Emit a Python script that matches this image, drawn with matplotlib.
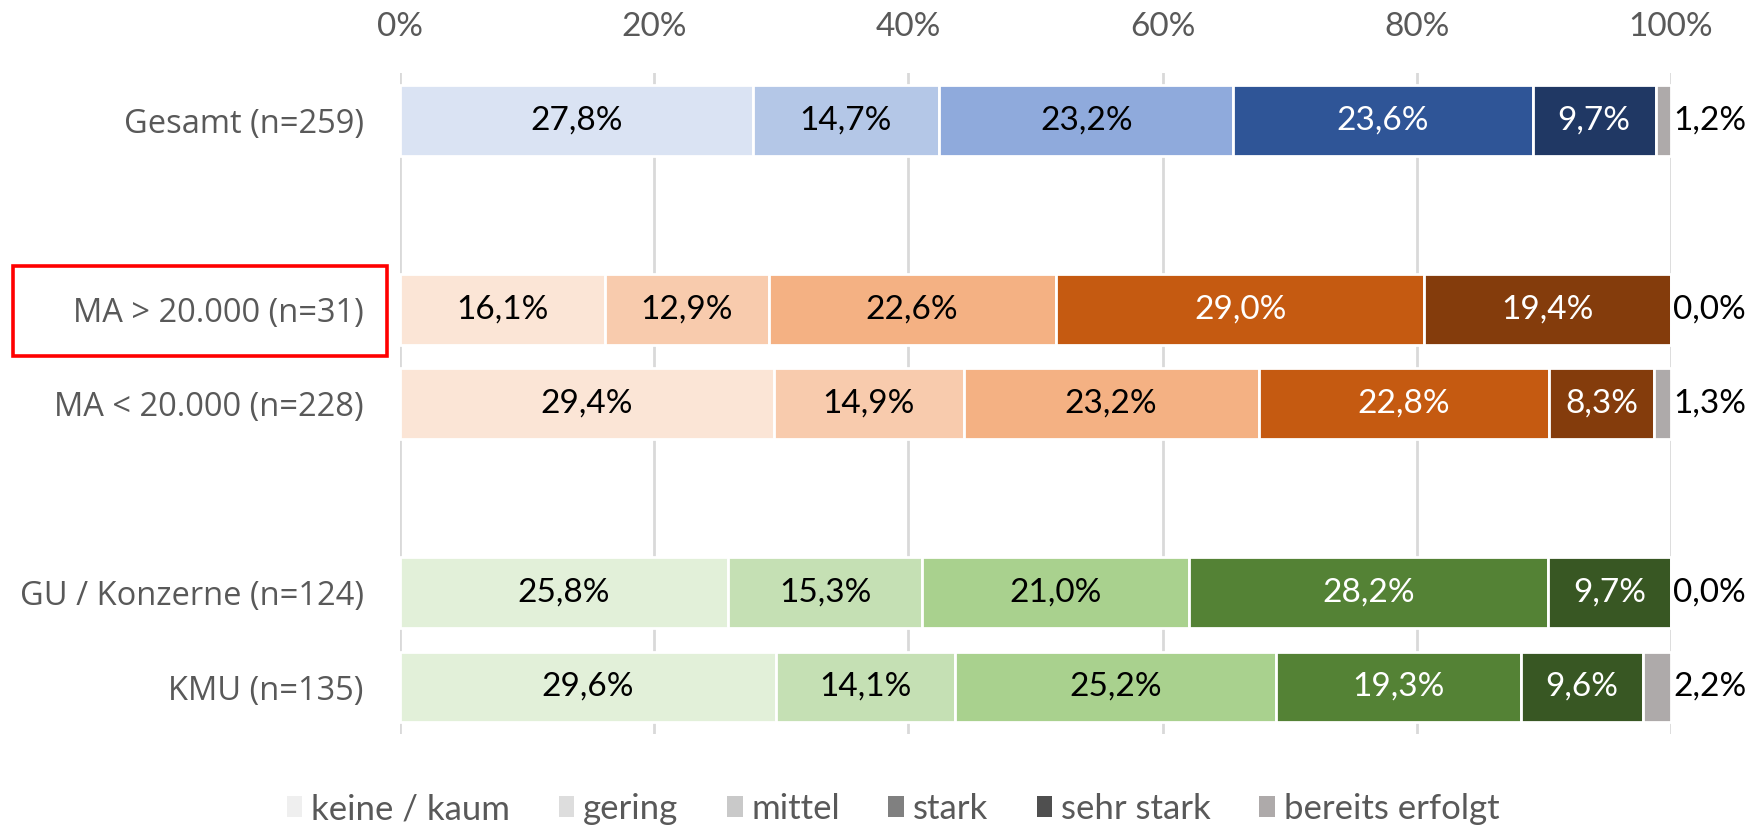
import numpy as np
import matplotlib
matplotlib.use("Agg")
import matplotlib.pyplot as plt
import matplotlib.patches as patches

plt.rcParams["font.family"] = ["Lato", "DejaVu Sans"]

# Daten
groups = ["Gesamt (n=259)", "MA > 20.000 (n=31)", "MA < 20.000 (n=228)",
          "GU / Konzerne (n=124)", "KMU (n=135)"]
positions = [0, 2, 3, 5, 6]
categories = ["keine / kaum", "gering", "mittel", "stark", "sehr stark", "bereits erfolgt"]

gesamt = [27.8, 14.7, 23.2, 23.6, 9.7, 1.2]
ma_gross = [16.1, 12.9, 22.6, 29.0, 19.4, 0.0]
ma_klein = [29.4, 14.9, 23.2, 22.8, 8.3, 1.3]
gu_konzerne = [25.8, 15.3, 21.0, 28.2, 9.7, 0.0]
kmu = [29.6, 14.1, 25.2, 19.3, 9.6, 2.2]
rows = [gesamt, ma_gross, ma_klein, gu_konzerne, kmu]

# Farben pro Zeile (blau, orange, orange, gruen, gruen)
blue = ["#DAE3F3", "#B4C7E7", "#8FAADC", "#2F5597", "#203864", "#AEAAAA"]
orange = ["#FBE5D6", "#F8CBAD", "#F4B183", "#C55A11", "#843C0C", "#AEAAAA"]
green = ["#E2F0D9", "#C5E0B4", "#A9D18E", "#548235", "#385723", "#AEAAAA"]
row_colors = [blue, orange, orange, green, green]
legend_colors = ["#EFEFEF", "#DDDDDD", "#C9C9C9", "#808080", "#4F4F4F", "#AEAAAA"]
text_colors = ["black", "black", "black", "white", "white"]

fig = plt.figure(figsize=(17.58, 8.25), dpi=100)
ax = fig.add_axes([0.2275, 0.110, 0.723, 0.8015])

for vals, pos, cols in zip(rows, positions, row_colors):
    vals = np.array(vals)
    shares = vals / vals.sum() * 100
    left = 0
    for i, (v, s) in enumerate(zip(vals, shares)):
        ax.barh(pos, s, left=left, height=0.75, color=cols[i],
                edgecolor="white", linewidth=2, zorder=2)
        label = f"{v:.1f}%".replace(".", ",")
        if i < 5:
            ax.text(left + s / 2, pos, label, ha="center", va="center",
                    fontsize=24, color=text_colors[i], zorder=3)
        else:
            ax.text(100.15, pos, label, ha="left", va="center",
                    fontsize=24, color="black", zorder=3)
        left += s

ax.set_xlim(0, 100)
ax.set_ylim(6.5, -0.5)
ax.set_xticks(np.arange(0, 101, 20))
ax.set_xticklabels([f"{t}%" for t in range(0, 101, 20)])
ax.xaxis.tick_top()
ax.tick_params(axis="x", length=0, pad=22, labelsize=24, labelcolor="#595959")
ax.set_yticks(positions)
ax.set_yticklabels(groups, fontfamily="Open Sans")
ax.tick_params(axis="y", length=0, pad=26, labelsize=23.5, labelcolor="#595959")
ax.grid(axis="x", color="#D9D9D9", linewidth=2, zorder=0)
for sp in ax.spines.values():
    sp.set_visible(False)

# Roter Rahmen um die Beschriftung
box = patches.Rectangle((13 / 1758, 1 - 356 / 825), 374 / 1758, 90 / 825,
                        transform=fig.transFigure, fill=False,
                        edgecolor="#FF0000", linewidth=2.6)
fig.patches.append(box)

# Legende
handles = [patches.Patch(facecolor=c, label=k) for k, c in zip(categories, legend_colors)]
leg = fig.legend(handles=handles, loc="lower center", bbox_to_anchor=(0.508, -0.038),
                 ncol=6, frameon=False, fontsize=25, handlelength=0.45,
                 handleheight=0.55, handletextpad=0.25, columnspacing=1.4)
for t in leg.get_texts():
    t.set_color("#595959")

fig.savefig("out.png", dpi=100)
